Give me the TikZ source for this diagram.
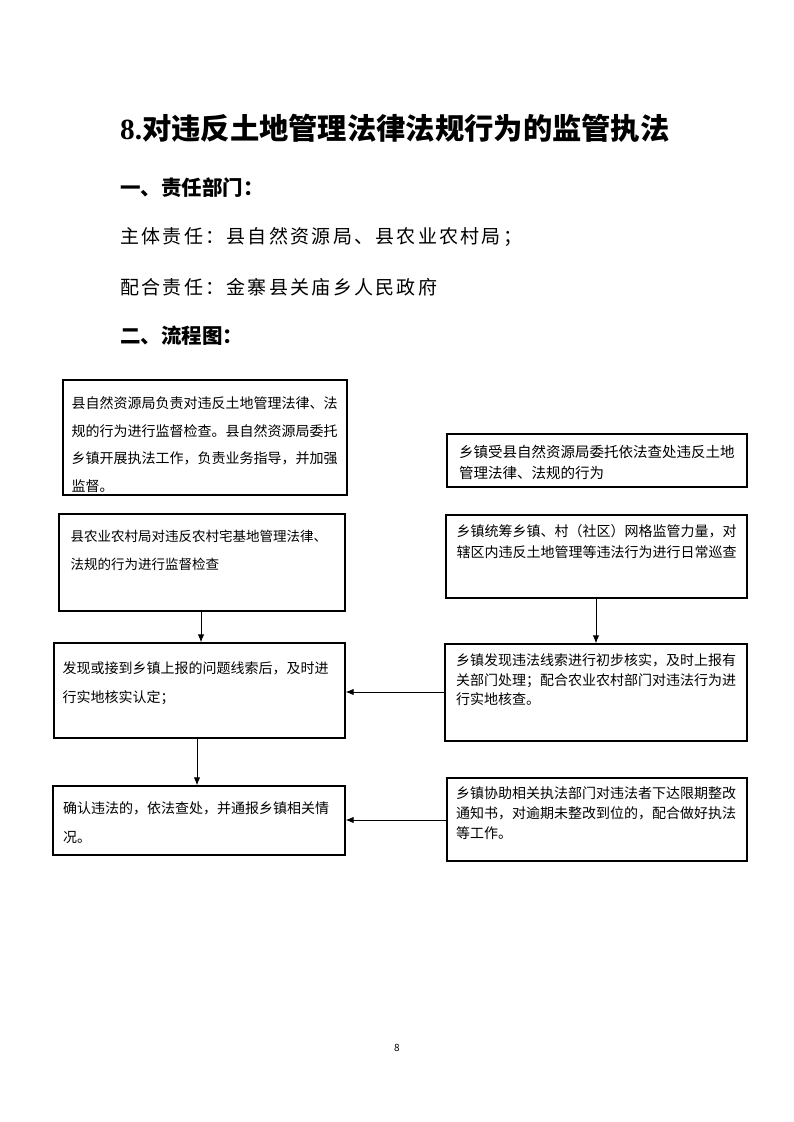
\documentclass[tikz,border=0pt]{standalone}
\usepackage{fontspec}
\setmainfont{Noto Sans CJK SC}
\newfontfamily\cjk{Noto Sans CJK SC}
\newfontfamily\latinserif{Liberation Serif}
\usetikzlibrary{arrows.meta}
\tikzset{
  box/.style={draw=black, line width=1.3pt, rectangle, inner sep=0pt},
  btext/.style={anchor=north west, inner sep=0pt, align=left},
  arr/.style={draw=black, line width=1pt, -{Latex[length=8pt,width=6.5pt]}},
  head/.style={anchor=west, inner sep=0pt}
}
\begin{document}
\begin{tikzpicture}[x=1pt,y=-1pt]
\useasboundingbox[fill=white] (0,0) rectangle (793,1122);

% title and headers
\node[head, font=\fontsize{29.3}{31}\selectfont\bfseries] (title) at (120,128) {{\latinserif\bfseries 8.}对违反土地管理法律法规行为的监管执法};
\node[head, font=\fontsize{20.5}{23}\selectfont\bfseries] (h1) at (120,188) {一、责任部门：};
\node[head, font=\fontsize{19}{22}\selectfont\addfontfeatures{LetterSpace=12}] (h2) at (120,237) {主体责任：县自然资源局、县农业农村局；};
\node[head, font=\fontsize{19}{22}\selectfont\addfontfeatures{LetterSpace=12}] (h3) at (120,287) {配合责任：金寨县关庙乡人民政府};
\node[head, font=\fontsize{20.5}{23}\selectfont\bfseries] (h4) at (120,336) {二、流程图：};

% boxes
\node[box, minimum width=284pt, minimum height=115pt] (b1) at (205,437.5) {};
\node[box, minimum width=300pt, minimum height=53pt] (b2) at (597,460.5) {};
\node[box, minimum width=286pt, minimum height=97pt] (b3) at (202,562.5) {};
\node[box, minimum width=301pt, minimum height=83pt] (b4) at (596.5,556.5) {};
\node[box, minimum width=291pt, minimum height=95pt] (b5) at (199.5,690.5) {};
\node[box, minimum width=302pt, minimum height=97pt] (b6) at (596,692.5) {};
\node[box, minimum width=292pt, minimum height=69pt] (b7) at (199,820.5) {};
\node[box, minimum width=300pt, minimum height=83pt] (b8) at (597,819.5) {};

% box texts
\node[btext, font=\fontsize{14}{27.5}\selectfont] (t1) at (71.5,396.5) {县自然资源局负责对违反土地管理法律、法\\规的行为进行监督检查。县自然资源局委托\\乡镇开展执法工作，负责业务指导，并加强\\监督。};
\node[btext, font=\fontsize{14.5}{21.5}\selectfont] (t2) at (459,444.5) {乡镇受县自然资源局委托依法查处违反土地\\管理法律、法规的行为};
\node[btext, font=\fontsize{13.5}{28}\selectfont] (t3) at (70.5,529.5) {县农业农村局对违反农村宅基地管理法律、\\法规的行为进行监督检查};
\node[btext, font=\fontsize{14}{21}\selectfont] (t4) at (456.5,524.5) {乡镇统筹乡镇、村（社区）网格监管力量，对\\辖区内违反土地管理等违法行为进行日常巡查};
\node[btext, font=\fontsize{14}{29}\selectfont] (t5) at (62.5,661.5) {发现或接到乡镇上报的问题线索后，及时进\\行实地核实认定；};
\node[btext, font=\fontsize{14}{19.5}\selectfont] (t6) at (456,653.5) {乡镇发现违法线索进行初步核实，及时上报有\\关部门处理；配合农业农村部门对违法行为进\\行实地核查。};
\node[btext, font=\fontsize{14}{28.5}\selectfont] (t7) at (63,801.5) {确认违法的，依法查处，并通报乡镇相关情\\况。};
\node[btext, font=\fontsize{14}{20}\selectfont] (t8) at (456,786.5) {乡镇协助相关执法部门对违法者下达限期整改\\通知书，对逾期未整改到位的，配合做好执法\\等工作。};

% connectors
\coordinate (a1) at (201,0);
\coordinate (a2) at (596,0);
\coordinate (a3) at (197,0);
\coordinate (r1) at (0,692);
\coordinate (r2) at (0,820);
\draw[arr] (b3.south -| a1) -- (b5.north -| a1);
\draw[arr] (b4.south -| a2) -- (b6.north -| a2);
\draw[arr] (b5.south -| a3) -- (b7.north -| a3);
\draw[arr] (b6.west |- r1) -- (b5.east |- r1);
\draw[arr] (b8.west |- r2) -- (b7.east |- r2);

% page number
\node[inner sep=0pt, font=\fontsize{10}{12}\selectfont] (pn) at (397,1048) {8};
\end{tikzpicture}
\end{document}
